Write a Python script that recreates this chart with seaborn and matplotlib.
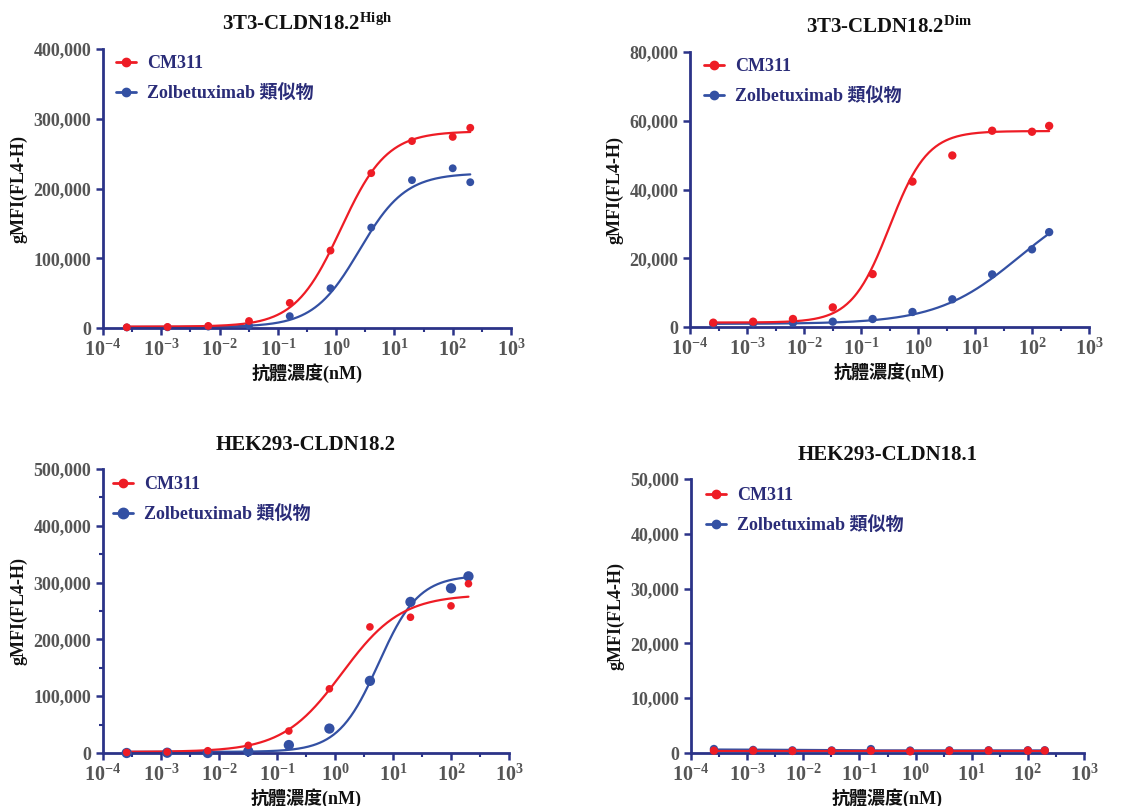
import numpy as np
import pandas as pd
import matplotlib
matplotlib.use("Agg")
import matplotlib.pyplot as plt
from matplotlib.lines import Line2D
from matplotlib.ticker import FixedLocator, FuncFormatter
import seaborn as sns

sns.set_theme(style="ticks")
plt.rcParams['font.family'] = ['Liberation Serif', 'Noto Sans CJK TC']
plt.rcParams['font.weight'] = 'bold'
plt.rcParams['mathtext.fontset'] = 'custom'
plt.rcParams['mathtext.rm'] = 'Liberation Serif:bold'
plt.rcParams['mathtext.bf'] = 'Liberation Serif:bold'
plt.rcParams['mathtext.it'] = 'Liberation Serif:bold'

# ---------------- data ----------------
conc = [0.000256, 0.00128, 0.0064, 0.032, 0.16, 0.8, 4, 20, 100, 200]
series_names = ["CM311", "Zolbetuximab 類似物"]

titles = [r"3T3-CLDN18.2$^{\mathrm{High}}$", r"3T3-CLDN18.2$^{\mathrm{Dim}}$",
          "HEK293-CLDN18.2", "HEK293-CLDN18.1"]

high_cm311 = [1000, 1500, 3000, 10000, 36000, 111000, 222000, 268000, 274000, 287000]
high_zolb = [800, 1000, 2000, 3500, 17000, 57000, 144000, 212000, 229000, 209000]

dim_cm311 = [1260, 1550, 2330, 5700, 15400, 42300, 49900, 57100, 56800, 58500]
dim_zolb = [900, 1100, 1200, 1550, 2330, 4370, 8060, 15300, 22600, 27600]

hek182_cm311 = [1000, 1800, 4000, 13500, 38700, 113000, 222000, 239000, 259000, 298000]
hek182_zolb = [0, 500, 0, 3000, 14000, 43000, 127000, 266000, 290000, 311000]

hek181_cm311 = [430, 430, 370, 380, 420, 300, 380, 430, 430, 430]
hek181_zolb = [730, 560, 480, 470, 720, 450, 480, 500, 500, 500]

# 4PL fit parameters: bottom, top, logEC50, hill
fit_high_cm311 = [2000, 282000, 0.08, 1.10]
fit_high_zolb = [1500, 222000, 0.40, 1.10]
fit_dim_cm311 = [1300, 57000, -0.50, 1.30]
fit_dim_zolb = [900, 40000, 1.78, 0.60]
fit_hek182_cm311 = [2000, 279000, 0.12, 0.85]
fit_hek182_zolb = [2000, 313000, 0.75, 1.25]
fit_hek181_cm311 = [420, 420, 0.0, 1.0]
fit_hek181_zolb = [640, 470, -2.2, 1.0]

ymax = [400000, 80000, 500000, 50000]
ystep = [100000, 20000, 100000, 10000]
yminor = [False, False, True, False]

panels = [
    (high_cm311, high_zolb, fit_high_cm311, fit_high_zolb),
    (dim_cm311, dim_zolb, fit_dim_cm311, fit_dim_zolb),
    (hek182_cm311, hek182_zolb, fit_hek182_cm311, fit_hek182_zolb),
    (hek181_cm311, hek181_zolb, fit_hek181_cm311, fit_hek181_zolb),
]
marker_sizes = [(32, 32), (36, 36), (30, 55), (36, 36)]
legend_ms = [(6.0, 6.0), (6.0, 6.0), (6.0, 7.5), (6.0, 6.0)]

# ---------------- style ----------------
RED = "#ee1c25"
BLUE = "#3350a3"
NAVY = "#2b3388"
LEGTXT = "#2a2c78"
TICKTXT = "#555555"

fig = plt.figure(figsize=(11.46, 8.06), dpi=100)
W, H = 1146, 806
rects_px = [(103, 49, 511, 328), (690, 52, 1089, 327),
            (103, 469, 509, 753), (691, 479, 1084, 753)]
# legend anchor (left px, top px) for each panel
legend_px = [(116, 55), (704, 58), (113, 476), (706, 487)]


def fourpl(x, p):
    b, t, le, h = p
    return b + (t - b) / (1 + 10 ** ((le - np.log10(x)) * h))


xs = np.logspace(np.log10(conc[0]), np.log10(conc[-1]), 300)

for i, (l, t, r, b) in enumerate(rects_px):
    ax = fig.add_axes([l / W, 1 - b / H, (r - l) / W, (b - t) / H])
    ycm, yzb, pcm, pzb = panels[i]
    s_cm, s_zb = marker_sizes[i]

    curve = pd.concat([
        pd.DataFrame({"x": xs, "y": fourpl(xs, pzb), "s": series_names[1]}),
        pd.DataFrame({"x": xs, "y": fourpl(xs, pcm), "s": series_names[0]}),
    ])
    pts_zb = pd.DataFrame({"x": conc, "y": yzb})
    pts_cm = pd.DataFrame({"x": conc, "y": ycm})

    sns.lineplot(data=curve, x="x", y="y", hue="s",
                 palette={series_names[0]: RED, series_names[1]: BLUE},
                 linewidth=1.6, ax=ax, legend=False, zorder=2)
    sns.scatterplot(data=pts_zb, x="x", y="y", color=BLUE, s=s_zb,
                    edgecolor="none", ax=ax, zorder=3, clip_on=False)
    sns.scatterplot(data=pts_cm, x="x", y="y", color=RED, s=s_cm,
                    edgecolor="none", ax=ax, zorder=4, clip_on=False)

    ax.set_xscale("log")
    ax.set_xlim(1e-4, 1e3)
    ax.set_ylim(0, ymax[i])
    ax.xaxis.set_major_locator(FixedLocator([10.0 ** k for k in range(-4, 4)]))
    ax.xaxis.set_minor_locator(FixedLocator([10.0 ** (k + 0.5) for k in range(-4, 3)]))
    ax.set_xticklabels([r"$\mathrm{10^{%d}}$" % k for k in range(-4, 4)])
    ax.yaxis.set_major_locator(FixedLocator(np.arange(0, ymax[i] + 1, ystep[i])))
    if yminor[i]:
        ax.yaxis.set_minor_locator(FixedLocator(np.arange(ystep[i] / 2, ymax[i], ystep[i])))
    else:
        ax.yaxis.set_minor_locator(FixedLocator([]))
    ax.yaxis.set_major_formatter(FuncFormatter(lambda v, p: f"{int(v):,}"))

    sns.despine(ax=ax)
    for sp in ["left", "bottom"]:
        ax.spines[sp].set_color(NAVY)
        ax.spines[sp].set_linewidth(2.0)
    ax.tick_params(axis="both", which="major", direction="out", length=5,
                   width=1.8, color=NAVY, labelcolor=TICKTXT)
    ax.tick_params(axis="y", which="major", labelsize=13)
    ax.tick_params(axis="x", which="major", labelsize=14.5, pad=3)
    ax.tick_params(axis="both", which="minor", direction="out", length=3,
                   width=1.5, color=NAVY)
    for lab in ax.get_yticklabels() + ax.get_xticklabels():
        lab.set_fontweight("bold")

    ax.set_title(titles[i], fontsize=15, fontweight="bold", color="#111111", pad=14)
    ax.set_xlabel("抗體濃度(nM)", fontsize=13, fontweight="bold", color="#111111", labelpad=2)
    ax.set_ylabel("gMFI(FL4-H)", fontsize=13, fontweight="bold", color="#111111", labelpad=4)
    ax.set_facecolor("white")

    m1, m2 = legend_ms[i]
    handles = [
        Line2D([0], [0], color=RED, marker="o", markersize=m1, linewidth=2),
        Line2D([0], [0], color=BLUE, marker="o", markersize=m2, linewidth=2),
    ]
    lx, ly = legend_px[i]
    leg = ax.legend(handles, series_names, loc="upper left", frameon=False,
                    bbox_to_anchor=((lx - l) / (r - l), 1 - (ly - t) / (b - t)),
                    borderaxespad=0, borderpad=0,
                    handlelength=1.1, handletextpad=0.6,
                    labelspacing=0.68, prop={"size": 13, "weight": "bold"})
    for txt in leg.get_texts():
        txt.set_color(LEGTXT)

fig.patch.set_facecolor("white")
fig.savefig("out.png", dpi=100, facecolor="white")
